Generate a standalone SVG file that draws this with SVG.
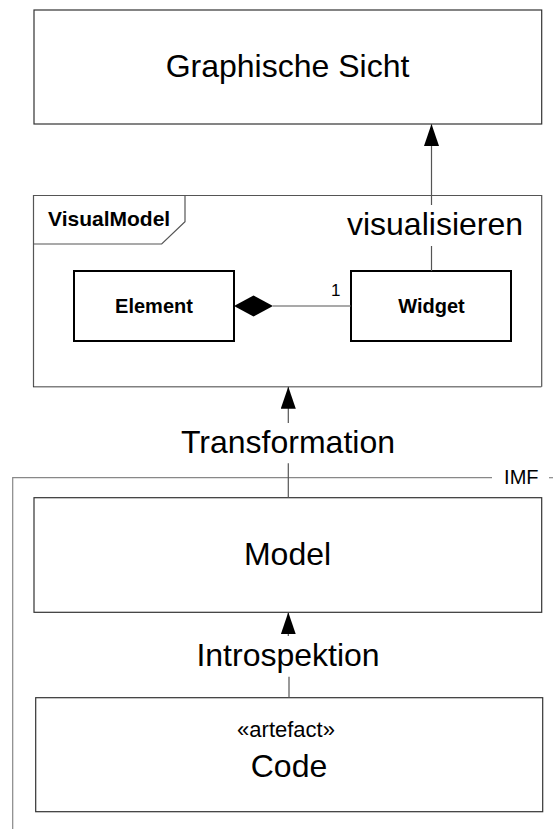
<svg xmlns="http://www.w3.org/2000/svg" width="553" height="829" viewBox="0 0 553 829">
  <style>
    text { font-family: "Liberation Sans", Arial, sans-serif; fill: #000; }
    .box { fill: #fff; stroke: #333; stroke-width: 1.2; }
    .cls { fill: #fff; stroke: #000; stroke-width: 2; }
    .frame { fill: none; stroke: #555; stroke-width: 1.2; }
    .big { font-size: 32px; text-anchor: middle; }
    .bold { font-weight: bold; font-size: 20px; text-anchor: middle; }
    .conn { stroke: #555; stroke-width: 1.2; fill: none; }
    .imf { stroke: #888; stroke-width: 1.2; fill: none; }
  </style>
  <defs>
    <!-- filled triangular arrowhead, tip at the path end -->
    <marker id="arrow" viewBox="0 0 22 15" refX="22" refY="7.5" markerWidth="22" markerHeight="15" markerUnits="userSpaceOnUse" orient="auto">
      <path d="M0 0 L22 7.5 L0 15 Z" fill="#000"/>
    </marker>
  </defs>

  <rect width="553" height="829" fill="#fff"/>

  <!-- IMF package boundary (top and left edges only) -->
  <g id="imf-boundary">
    <path class="imf" d="M12.7 829 V477.7 H492"/>
    <line class="imf" x1="549" y1="477.7" x2="553" y2="477.7"/>
    <text x="521.3" y="484" font-size="20" text-anchor="middle">IMF</text>
  </g>

  <g id="node-graphische-sicht">
    <rect class="box" x="34" y="10" width="507.7" height="114"/>
    <text class="big" x="287.5" y="77.3">Graphische Sicht</text>
  </g>

  <g id="node-visualmodel">
    <rect x="33.5" y="195.5" width="508.2" height="191.2" fill="#fff"/>
    <path class="frame" d="M33.5 386.7 V195.5 H541.7 V386.7"/>
    <line x1="33.5" y1="386.7" x2="541.7" y2="386.7" stroke="#000" stroke-width="1.5" stroke-dasharray="1,1"/>
    <path class="frame" d="M33.5 244 H161.7 L185 221.7 V195.5"/>
    <text x="48" y="225.7" font-size="21" font-weight="bold">VisualModel</text>
  </g>

  <g id="node-element">
    <rect class="cls" x="74" y="271" width="160" height="70"/>
    <text class="bold" x="154" y="313.3">Element</text>
  </g>

  <g id="node-widget">
    <rect class="cls" x="351" y="271" width="160" height="70"/>
    <text class="bold" x="431.5" y="313.3">Widget</text>
  </g>

  <g id="node-model">
    <rect class="box" x="34" y="497.7" width="507.7" height="114.6"/>
    <text class="big" x="287.5" y="565">Model</text>
  </g>

  <g id="node-code">
    <rect class="box" x="35.7" y="697.7" width="507" height="114"/>
    <text x="286" y="736.7" font-size="22" text-anchor="middle">«artefact»</text>
    <text class="big" x="289" y="776.7">Code</text>
  </g>

  <g id="connectors">
    <!-- composition Element <>— Widget -->
    <line class="conn" x1="273" y1="306" x2="351" y2="306" stroke="#000"/>
    <path d="M234 306 L253.5 295.5 L273 306 L253.5 316.5 Z" fill="#000"/>
    <text x="331" y="296" font-size="17">1</text>

    <!-- visualisieren: Widget -> Graphische Sicht -->
    <line class="conn" x1="431.5" y1="205" x2="431.5" y2="124" marker-end="url(#arrow)"/>
    <line class="conn" x1="431.5" y1="246" x2="431.5" y2="271"/>
    <text class="big" x="435" y="235">visualisieren</text>

    <!-- Transformation: Model -> VisualModel -->
    <line class="conn" x1="288.3" y1="423" x2="288.3" y2="386.7" marker-end="url(#arrow)"/>
    <line class="conn" x1="288.3" y1="463.3" x2="288.3" y2="497.7"/>
    <text class="big" x="288" y="452.7">Transformation</text>

    <!-- Introspektion: Code -> Model -->
    <line class="conn" x1="288.3" y1="636" x2="288.3" y2="612.3" marker-end="url(#arrow)"/>
    <line class="conn" x1="289" y1="676.7" x2="289" y2="697.7"/>
    <text class="big" x="288" y="666">Introspektion</text>
  </g>
</svg>
